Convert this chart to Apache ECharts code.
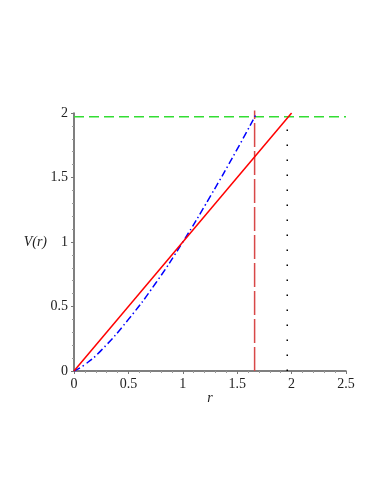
<!DOCTYPE html>
<html>
<head>
<meta charset="utf-8">
<script src="https://cdn.jsdelivr.net/npm/echarts@6/dist/echarts.min.js"></script>
<style>
  html, body { margin: 0; padding: 0; background: #fff; }
  #chart { width: 382px; height: 494px; }
</style>
</head>
<body>
<div id="chart"></div>
<script>
// values
var xTicks = [0, 0.5, 1, 1.5, 2, 2.5];
var yTicks = [0, 0.5, 1, 1.5, 2];
var lineR = [0, 2];
var lineV = [0, 2];
var curveR = [0, 0.1, 0.25, 0.5, 0.75, 1, 1.25, 1.5, 1.68];
var curveV = [0, 0.05, 0.16, 0.40, 0.68, 1, 1.35, 1.72, 2.0];
var levelV = 1.97;   // green dashed
var rStar = 1.66;    // red dashed
var rDot = 1.96;     // black dotted

function pairs(xs, ys) {
  var out = [];
  for (var i = 0; i < xs.length; i++) out.push([xs[i], ys[i]]);
  return out;
}

var myChart = echarts.init(document.getElementById("chart"));
var font = "Liberation Serif";
var option = {
  animation: false,
  grid: { left: 74, right: 36, top: 113, bottom: 123 },
  xAxis: {
    type: "value",
    min: xTicks[0],
    max: xTicks[xTicks.length - 1],
    interval: 0.5,
    name: "r",
    nameLocation: "middle",
    nameGap: 20,
    nameMoveOverlap: false,
    nameTextStyle: { fontFamily: font, fontStyle: "italic", fontSize: 14, color: "#222" },
    axisLine: { lineStyle: { color: "#555", width: 1.5 } },
    axisTick: { show: true, length: 3, lineStyle: { color: "#777" } },
    minorTick: { show: true, splitNumber: 5, length: 2, lineStyle: { color: "#999" } },
    axisLabel: { fontFamily: font, fontSize: 14, color: "#222", margin: 6 },
    splitLine: { show: false }
  },
  yAxis: {
    type: "value",
    min: yTicks[0],
    max: yTicks[yTicks.length - 1],
    interval: 0.5,
    name: "V(r)",
    nameLocation: "middle",
    nameRotate: 0,
    nameGap: 27,
    nameMoveOverlap: false,
    nameTextStyle: { fontFamily: font, fontStyle: "italic", fontSize: 14, color: "#222" },
    axisLine: { show: true, lineStyle: { color: "#555", width: 1.5 } },
    axisTick: { show: true, length: 3, lineStyle: { color: "#777" } },
    minorTick: { show: true, splitNumber: 5, length: 2, lineStyle: { color: "#999" } },
    axisLabel: { fontFamily: font, fontSize: 14, color: "#222", margin: 6 },
    splitLine: { show: false }
  },
  series: [
    {
      type: "line",
      data: [[0, levelV], [xTicks[xTicks.length - 1], levelV]],
      showSymbol: false,
      lineStyle: { color: "#33dd33", width: 1.5, type: [10, 5] },
      z: 2
    },
    {
      type: "line",
      data: [[rStar, 0], [rStar, 2.02]],
      showSymbol: false,
      clip: false,
      lineStyle: { color: "#d84848", width: 1.5, type: [24, 4] },
      z: 2
    },
    {
      type: "line",
      data: [[rDot, 0], [rDot, levelV]],
      showSymbol: false,
      lineStyle: { color: "#000", width: 1.5, type: [1.5, 13.5] },
      z: 2
    },
    {
      type: "line",
      data: pairs(curveR, curveV),
      smooth: true,
      showSymbol: false,
      lineStyle: { color: "#0000ff", width: 1.5, type: [7, 3, 1.5, 3] },
      z: 3
    },
    {
      type: "line",
      data: pairs(lineR, lineV),
      showSymbol: false,
      lineStyle: { color: "#ff0000", width: 1.5 },
      z: 4
    }
  ]
};
myChart.setOption(option);
window.onresize = myChart.resize;
</script>
</body>
</html>
